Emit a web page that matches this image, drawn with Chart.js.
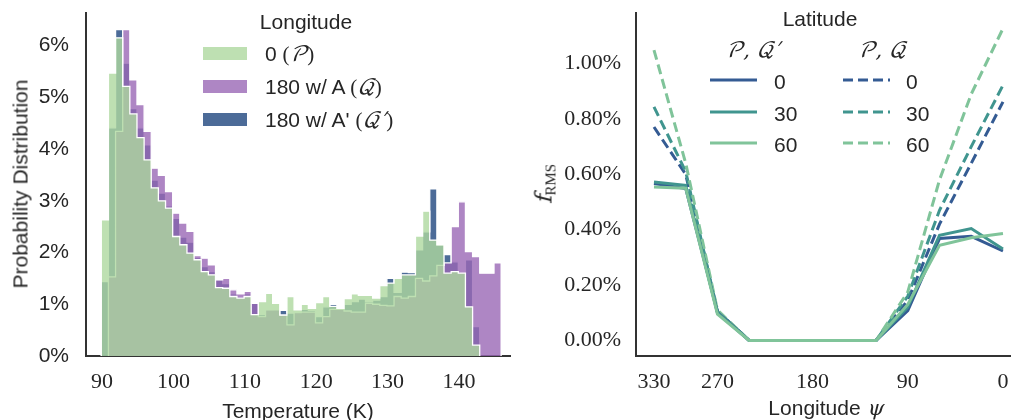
<!DOCTYPE html>
<html><head><meta charset="utf-8">
<script src="https://cdn.jsdelivr.net/npm/chart.js@4.4.1/dist/chart.umd.min.js"></script>
<style>
body{margin:0;background:#fff;width:1011px;height:420px;overflow:hidden;position:relative;font-family:"Liberation Sans",Arial,sans-serif;color:#262626}
canvas{position:absolute;top:0}
#c1{left:0}
#c2{left:520px}
.t{position:absolute;white-space:nowrap;font-size:21px;line-height:1}
.c{transform:translate(-50%,-50%)}
.r{transform:translate(-50%,-50%) rotate(-90deg)}
.m{font-family:"DejaVu Math TeX Gyre","DejaVu Serif","Liberation Serif",serif;font-style:italic}
.s{font-family:"Liberation Serif",serif}
.sw{position:absolute;width:44px;height:13px}
.lg{position:absolute;transform:translateY(-50%)}
</style></head><body>
<canvas id="c1" width="520" height="420"></canvas>
<canvas id="c2" width="491" height="420"></canvas>

<div class="t c" style="left:298px;top:410px">Temperature (K)</div>
<div class="t r" style="left:20px;top:184px">Probability Distribution</div>
<div class="t c" style="left:306px;top:21px">Longitude</div>
<div class="sw" style="left:203px;top:47px;background:rgba(174,216,159,0.8)"></div>
<div class="sw" style="left:203px;top:80px;background:rgba(154,104,181,0.8)"></div>
<div class="sw" style="left:203px;top:113px;background:rgba(31,70,126,0.8)"></div>
<div class="t lg" style="left:265px;top:54px">0 <span class="s">(</span><span class="m">𝒫</span><span class="s">)</span></div>
<div class="t lg" style="left:265px;top:87px">180 w/ A <span class="s">(</span><span class="m">𝒬</span><span class="s">)</span></div>
<div class="t lg" style="left:265px;top:120px">180 w/ A' <span class="s">(</span><span class="m">𝒬′</span><span class="s">)</span></div>

<div class="t c" style="left:826px;top:408px">Longitude <span class="m">ψ</span></div>
<div class="t r" style="left:545px;top:184px"><span class="m" style="font-size:23px">f</span><span class="s" style="font-size:15px;position:relative;top:4px">RMS</span></div>
<div class="t c" style="left:820px;top:18px">Latitude</div>
<div class="t c m" style="left:753px;top:50px">𝒫, 𝒬′</div>
<div class="t c m" style="left:882px;top:50px">𝒫, 𝒬</div>
<svg style="position:absolute;left:0;top:0" width="1011" height="420">
<line x1="710" y1="80" x2="757" y2="80" stroke="#345b93" stroke-width="3"/>
<line x1="710" y1="112" x2="757" y2="112" stroke="#40958f" stroke-width="3"/>
<line x1="710" y1="143" x2="757" y2="143" stroke="#80c49a" stroke-width="3"/>
<line x1="843" y1="80" x2="890" y2="80" stroke="#345b93" stroke-width="3" stroke-dasharray="10,5"/>
<line x1="843" y1="112" x2="890" y2="112" stroke="#40958f" stroke-width="3" stroke-dasharray="10,5"/>
<line x1="843" y1="143" x2="890" y2="143" stroke="#80c49a" stroke-width="3" stroke-dasharray="10,5"/>
</svg>
<div class="t lg" style="left:774px;top:81px">0</div>
<div class="t lg" style="left:774px;top:113px">30</div>
<div class="t lg" style="left:774px;top:144px">60</div>
<div class="t lg" style="left:906px;top:81px">0</div>
<div class="t lg" style="left:906px;top:113px">30</div>
<div class="t lg" style="left:906px;top:144px">60</div>

<script>
// ---- Left panel: temperature histograms (percent per 1 K bin) ----
const binEdges = [89.9,90.9,91.9,92.9,93.9,94.9,95.9,96.9,97.9,98.9,99.9,100.9,101.9,102.9,103.9,104.9,105.9,106.9,107.9,108.9,109.9,110.9,111.9,112.9,113.9,114.9,115.9,116.9,117.9,118.9,119.9,120.9,121.9,122.9,123.9,124.9,125.9,126.9,127.9,128.9,129.9,130.9,131.9,132.9,133.9,134.9,135.9,136.9,137.9,138.9,139.9,140.9,141.9,142.9,143.9,144.9,145.9];
const histP = [2.63,5.47,6.15,5.21,4.68,4.22,3.79,3.25,3.00,2.86,
  2.31,2.15,1.99,1.86,1.63,1.57,1.32,1.31,1.15,1.12,
  1.15,0.80,1.05,1.21,1.02,0.79,1.15,0.89,1.00,0.92,
  1.03,1.15,0.96,0.92,1.11,1.20,1.17,1.17,1.12,1.36,
  1.41,1.50,1.57,1.57,2.32,2.80,2.24,2.15,1.60,1.63,
  1.60,0.95,0.21,0,0,0];
const histQ = [0,1.53,4.34,6.31,5.34,4.86,4.34,3.63,3.49,3.18,
  2.76,2.57,2.41,1.94,1.89,1.76,1.47,1.50,1.28,1.20,
  1.25,1.02,0.76,0.89,0.89,0.79,0.60,0.84,0.85,0.85,
  0.64,0.76,0.90,0.90,0.87,0.85,0.85,1.02,1.00,0.98,
  0.97,1.15,1.12,1.15,1.50,1.45,1.55,1.75,1.80,2.50,
  2.98,2.02,1.92,1.60,1.60,1.80];
const histQp = [1.44,4.41,6.31,5.66,4.78,4.41,4.08,3.40,3.15,2.90,
  2.66,2.30,2.20,1.90,1.73,1.63,1.47,1.40,1.20,1.15,
  1.20,1.02,0.80,0.89,0.90,0.88,0.83,0.85,0.90,0.88,
  0.76,0.95,1.00,0.90,1.00,1.05,1.10,1.05,1.08,1.15,
  1.50,1.23,1.62,1.61,2.05,2.40,3.23,2.15,1.96,1.82,
  1.60,1.86,0.57,0,0,0];
const tempTicks = [90,100,110,120,130,140];
const probTicks = [0,1,2,3,4,5,6];

// ---- Right panel: f_RMS vs longitude ----
const longitudes = [330,300,270,240,210,180,150,120,90,60,30,0];
const latLabels = ['0','30','60'];
const solidLat0  = [0.567,0.549,0.102,0,0,0,0,0,0.108,0.368,0.376,0.323];
const solidLat30 = [0.572,0.560,0.100,0,0,0,0,0,0.120,0.380,0.404,0.330];
const solidLat60 = [0.554,0.550,0.095,0,0,0,0,0,0.130,0.344,0.371,0.386];
const dashLat0   = [0.771,0.600,0.105,0,0,0,0,0,0.145,0.420,0.640,0.862];
const dashLat30  = [0.844,0.610,0.105,0,0,0,0,0,0.160,0.470,0.700,0.922];
const dashLat60  = [1.049,0.640,0.110,0,0,0,0,0,0.175,0.580,0.890,1.127];
const lonTicks = [330,270,180,90,0];
const frmsTicks = [0,0.2,0.4,0.6,0.8,1.0];

const ink = '#262626';
const sansTick = {family:'"Liberation Sans", Arial, sans-serif', size:21};
const serifTick = {family:'"Liberation Serif", serif', size:22};

function noPad(s){ s.paddingLeft = 0; s.paddingRight = 0; s.paddingTop = 0; s.paddingBottom = 0; }

function stepData(vals){
  let i0 = vals.findIndex(v => v > 0);
  let i1 = vals.length - 1;
  while (i1 > 0 && vals[i1] <= 0) i1--;
  const pts = [{x: binEdges[i0], y: 0}];
  for (let i = i0; i <= i1; i++) pts.push({x: binEdges[i], y: vals[i]});
  pts.push({x: binEdges[i1 + 1], y: 0});
  return pts;
}
function histSet(label, vals, color){
  return {label, data: stepData(vals), stepped: true, fill: 'origin',
    backgroundColor: color, borderColor: '#ffffff', borderWidth: 1.3,
    pointRadius: 0, tension: 0};
}

new Chart(document.getElementById('c1'), {
  type: 'line',
  data: {datasets: [
    histSet('0 (P)', histP, 'rgba(174,216,159,0.8)'),
    histSet('180 w/ A (Q)', histQ, 'rgba(154,104,181,0.8)'),
    histSet("180 w/ A' (Q')", histQp, 'rgba(31,70,126,0.8)')
  ]},
  options: {
    responsive: false, animation: false, devicePixelRatio: 1, events: [],
    layout: {padding: {top: 13, right: 10, left: 0, bottom: 0}},
    plugins: {legend: {display: false}, tooltip: {enabled: false}},
    scales: {
      x: {type: 'linear', min: 87.76, max: 147.14,
        grid: {display: false, drawTicks: false},
        border: {display: true, color: '#333', width: 2},
        afterBuildTicks: s => { s.ticks = tempTicks.map(v => ({value: v})); },
        afterFit: s => { s.height = 64; noPad(s); },
        ticks: {font: serifTick, color: ink, padding: 13, maxRotation: 0}},
      y: {min: 0, max: 6.63,
        grid: {display: false, drawTicks: false},
        border: {display: true, color: '#333', width: 2},
        afterBuildTicks: s => { s.ticks = probTicks.map(v => ({value: v})); },
        afterFit: s => { s.width = 86; noPad(s); },
        ticks: {font: sansTick, color: ink, padding: 17, callback: v => v + '%'}}
    }
  }
});

const colors = ['#345b93', '#40958f', '#80c49a'];
function lineSet(label, vals, color, dashed){
  return {label, data: longitudes.map((lon, i) => ({x: lon, y: vals[i]})),
    borderColor: color, backgroundColor: color, borderWidth: 3,
    borderDash: dashed ? [10, 5] : [], pointRadius: 0, tension: 0, fill: false};
}
new Chart(document.getElementById('c2'), {
  type: 'line',
  data: {datasets: [
    lineSet('P,Q\' 60', solidLat60, colors[2], false),
    lineSet('P,Q\' 30', solidLat30, colors[1], false),
    lineSet('P,Q\' 0', solidLat0, colors[0], false),
    lineSet('P,Q 60', dashLat60, colors[2], true),
    lineSet('P,Q 30', dashLat30, colors[1], true),
    lineSet('P,Q 0', dashLat0, colors[0], true)
  ]},
  options: {
    responsive: false, animation: false, devicePixelRatio: 1, events: [],
    layout: {padding: {top: 13, right: 0, left: 0, bottom: 0}},
    plugins: {legend: {display: false}, tooltip: {enabled: false}},
    scales: {
      x: {type: 'linear', reverse: true, min: -7.6, max: 347,
        grid: {display: false, drawTicks: false},
        border: {display: true, color: '#333', width: 2},
        afterBuildTicks: s => { s.ticks = lonTicks.map(v => ({value: v})); },
        afterFit: s => { s.height = 64; noPad(s); },
        ticks: {font: serifTick, color: ink, padding: 13, maxRotation: 0}},
      y: {min: -0.0564, max: 1.183,
        grid: {display: false, drawTicks: false},
        border: {display: true, color: '#333', width: 2},
        afterBuildTicks: s => { s.ticks = frmsTicks.map(v => ({value: v})); },
        afterFit: s => { s.width = 116; noPad(s); },
        ticks: {font: serifTick, color: ink, padding: 15, callback: v => v.toFixed(2) + '%'}}
    }
  }
});
</script>
</body></html>
